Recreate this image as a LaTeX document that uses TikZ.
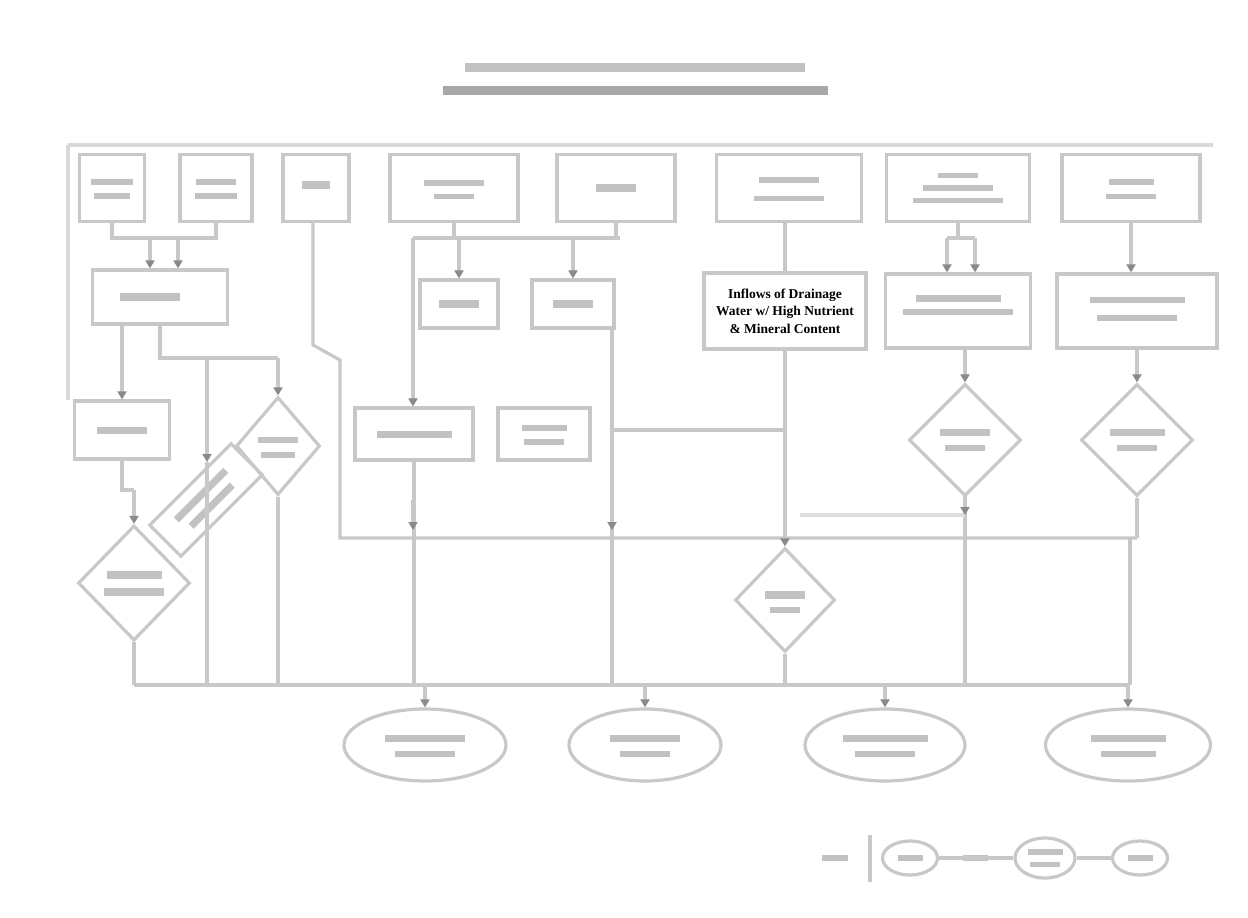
\documentclass[tikz,border=0pt]{standalone}
\usepackage{fontspec}
\setmainfont{Liberation Serif}
\usetikzlibrary{shapes.geometric,arrows.meta}
\definecolor{ln}{HTML}{C8C8C8}
\definecolor{tip}{HTML}{8A8A8A}
\definecolor{bar}{HTML}{C2C2C2}
\definecolor{barD}{HTML}{A8A8A8}
\tikzset{
  wire/.style={draw=ln, line width=3.2pt},
  arr/.style={wire, -{Triangle[length=8pt,width=9pt,color=tip]}},
  boxn/.style={draw=ln, line width=3.2pt, rectangle, inner sep=0pt},
  dia/.style={draw=ln, line width=3.2pt, diamond, inner sep=0pt},
  ell/.style={draw=ln, line width=3.2pt, ellipse, inner sep=0pt},
}
\newcommand\gb[4]{\fill[bar] ({#1-#3/2},{#2-#4/2}) rectangle ({#1+#3/2},{#2+#4/2});}
\newcommand\gbd[4]{\fill[barD] ({#1-#3/2},{#2-#4/2}) rectangle ({#1+#3/2},{#2+#4/2});}
\begin{document}
\begin{tikzpicture}[x=1pt,y=-1pt]
\useasboundingbox (0,0) rectangle (1248,918);
\fill[white] (0,0) rectangle (1248,918);

% title (illegible)
\gb{635}{67}{340}{9}
\gbd{635}{90}{385}{9}

% top frame
\draw[wire, draw=ln!70] (68,145) -- (1213,145);
\draw[wire, draw=ln!70] (68,145) -- (68,400);

% top row
\node[boxn, minimum width=65, minimum height=67] (b1) at (112,188) {};
\node[boxn, minimum width=72, minimum height=67] (b2) at (216,188) {};
\node[boxn, minimum width=66, minimum height=67] (b3) at (316,188) {};
\node[boxn, minimum width=128, minimum height=67] (b4) at (454,188) {};
\node[boxn, minimum width=118, minimum height=67] (b5) at (616,188) {};
\node[boxn, minimum width=145, minimum height=67] (b6) at (789,188) {};
\node[boxn, minimum width=143, minimum height=67] (b7) at (958,188) {};
\node[boxn, minimum width=138, minimum height=67] (b8) at (1131,188) {};
\gb{112}{182}{42}{6}\gb{112}{196}{36}{6}
\gb{216}{182}{40}{6}\gb{216}{196}{42}{6}
\gb{316}{185}{28}{8}
\gb{454}{183}{60}{6}\gb{454}{196}{40}{5}
\gb{616}{188}{40}{8}
\gb{789}{180}{60}{6}\gb{789}{198}{70}{5}
\gb{958}{175}{40}{5}\gb{958}{188}{70}{6}\gb{958}{200}{90}{5}
\gb{1131}{182}{45}{6}\gb{1131}{196}{50}{5}

% middle row
\node[boxn, minimum width=135, minimum height=54] (m1) at (160,297) {};
\node[boxn, minimum width=78, minimum height=48] (m2) at (459,304) {};
\node[boxn, minimum width=82, minimum height=48] (m3) at (573,304) {};
\node[boxn, minimum width=162, minimum height=76, fill=white, align=center, font=\bfseries\fontsize{13.5}{17.5}\selectfont] (m4) at (785,311) {Inflows of Drainage\\Water w/ High Nutrient\\\& Mineral Content};
\node[boxn, minimum width=145, minimum height=74] (m5) at (958,311) {};
\node[boxn, minimum width=160, minimum height=74] (m6) at (1137,311) {};
\gb{150}{297}{60}{8}
\gb{459}{304}{40}{8}
\gb{573}{304}{40}{8}
\gb{958}{298}{85}{7}\gb{958}{312}{110}{6}
\gb{1137}{300}{95}{6}\gb{1137}{318}{80}{6}

% third row
\node[boxn, minimum width=95, minimum height=58] (r1) at (122,430) {};
\node[dia, minimum width=84, minimum height=98] (d1) at (278,446) {};
\node[boxn, minimum width=118, minimum height=52] (r2) at (414,434) {};
\node[boxn, minimum width=92, minimum height=52] (r3) at (544,434) {};
\node[dia, minimum width=112, minimum height=112] (d2) at (965,440) {};
\node[dia, minimum width=112, minimum height=112] (d3) at (1137,440) {};
\gb{122}{430}{50}{7}
\gb{278}{440}{40}{6}\gb{278}{455}{34}{6}
\gb{414}{434}{75}{7}
\gb{544}{428}{45}{6}\gb{544}{442}{40}{6}
\gb{965}{432}{50}{7}\gb{965}{448}{40}{6}
\gb{1137}{432}{55}{7}\gb{1137}{448}{40}{6}

% lower shapes
\node[boxn, rotate=45, minimum width=115, minimum height=44] (d4) at (206,500) {};
\node[dia, minimum width=112, minimum height=115] (d5) at (134,583) {};
\node[dia, minimum width=100, minimum height=104] (d6) at (785,600) {};
\begin{scope}[rotate around={45:(206,500)}]
\gb{206}{493}{70}{7}\gb{206}{508}{58}{7}
\end{scope}
\gb{134}{575}{55}{8}\gb{134}{592}{60}{8}
\gb{785}{595}{40}{8}\gb{785}{610}{30}{6}

% ellipses
\node[ell, minimum width=162, minimum height=72] (e1) at (425,745) {};
\node[ell, minimum width=152, minimum height=72] (e2) at (645,745) {};
\node[ell, minimum width=160, minimum height=72] (e3) at (885,745) {};
\node[ell, minimum width=165, minimum height=72] (e4) at (1128,745) {};
\gb{425}{738}{80}{7}\gb{425}{754}{60}{6}
\gb{645}{738}{70}{7}\gb{645}{754}{50}{6}
\gb{885}{738}{85}{7}\gb{885}{754}{60}{6}
\gb{1128}{738}{75}{7}\gb{1128}{754}{55}{6}

% junction coordinates
\coordinate (t1) at (112,238);
\coordinate (t2) at (216,238);
\coordinate (ta) at (150,238);
\coordinate (tb) at (178,238);
\coordinate (t4a) at (413,238);
\coordinate (t4b) at (620,238);
\coordinate (tm2) at (459,238);
\coordinate (tm3) at (573,238);
\coordinate (t7a) at (947,238);
\coordinate (t7b) at (975,238);
\coordinate (s3a) at (313,345);
\coordinate (s3b) at (340,360);
\coordinate (h1) at (340,538);
\coordinate (h2) at (1137,538);
\coordinate (k1) at (160,358);
\coordinate (k2) at (278,358);
\coordinate (k3) at (207,358);
\coordinate (k4) at (207,462);
\coordinate (q1) at (612,330);
\coordinate (q2) at (612,430);
\coordinate (q3) at (785,430);
\coordinate (g1) at (134,685);
\coordinate (g2) at (1130,685);
\coordinate (p1) at (122,490);
\coordinate (w1) at (800,515);
\coordinate (w2) at (965,515);

% top bus
\draw[wire] (b1.south -| t1) -- (t1) -- (t2) -- (b2.south -| t2);
\draw[arr] (ta) -- (ta |- m1.north);
\draw[arr] (tb) -- (tb |- m1.north);
\draw[wire] (t4a) -- (t4b);
\draw[wire] (b4.south) -- (b4.south |- t4a);
\draw[wire] (b5.south) -- (b5.south |- t4a);
\draw[arr] (tm2) -- (m2.north);
\draw[arr] (tm3) -- (m3.north);
\draw[arr] (t4a) -- (t4a |- r2.north);
\draw[wire] (b6.south -| m4.north) -- (m4.north);
\draw[wire] (b7.south) -- (b7.south |- t7a);
\draw[wire] (t7a) -- (t7b);
\draw[arr] (t7a) -- (t7a |- m5.north);
\draw[arr] (t7b) -- (t7b |- m5.north);
\draw[arr] (b8.south) -- (b8.south |- m6.north);

% left part
\draw[wire] (b3.south -| s3a) -- (s3a) -- (s3b) -- (h1) -- (h2);
\draw[arr] (m1.south -| r1.north) -- (r1.north);
\draw[wire] (m1.south -| k1) -- (k1) -- (k2);
\draw[arr] (k2) -- (d1.north);
\draw[arr] (k3) -- (k4);
\draw[wire] (k4) -- (k4 |- g1);
\draw[wire] (r1.south) -- (p1) -- (p1 -| d5.north);
\draw[arr] (p1 -| d5.north) -- (d5.north);
\draw[wire] (d5.south) -- (g1);
\draw[wire] (d1.south) -- (d1.south |- g1);
\draw[wire] (r2.south) -- (r2.south |- g1);
\draw[arr] (413,500) -- (413,530);
\draw[wire] (q1) -- (q1 |- g1);
\draw[arr] (612,500) -- (612,530);
\draw[wire] (q2) -- (q3);

% right part
\draw[arr] (m4.south) -- (d6.north);
\draw[arr] (m5.south -| d2.north) -- (d2.north);
\draw[arr] (m6.south -| d3.north) -- (d3.north);
\draw[wire] (d2.south) -- (d2.south |- g1);
\draw[wire] (d3.south) -- (h2);
\draw[wire] (h2 -| g2) -- (g2);
\draw[wire, draw=ln!60] (w1) -- (w2);
\draw[arr] (965,495) -- (w2);
\draw[wire] (d6.south) -- (d6.south |- g1);

% bottom bus
\draw[wire] (g1) -- (g2);
\draw[arr] (e1.north |- g1) -- (e1.north);
\draw[arr] (e2.north |- g1) -- (e2.north);
\draw[arr] (e3.north |- g1) -- (e3.north);
\draw[arr] (e4.north |- g1) -- (e4.north);

% legend
\gb{835}{858}{26}{6}
\draw[wire] (870,835) -- (870,882);
\node[ell, minimum width=55, minimum height=34] (l1) at (910,858) {};
\gb{910}{858}{25}{6}
\gb{975}{858}{25}{6}
\node[ell, minimum width=60, minimum height=40] (l2) at (1045,858) {};
\gb{1045}{852}{35}{6}\gb{1045}{864}{30}{5}
\node[ell, minimum width=55, minimum height=34] (l3) at (1140,858) {};
\gb{1140}{858}{25}{6}
\draw[wire] (l1.east) -- (l2.west);
\draw[wire] (l2.east) -- (l3.west);
\end{tikzpicture}
\end{document}
